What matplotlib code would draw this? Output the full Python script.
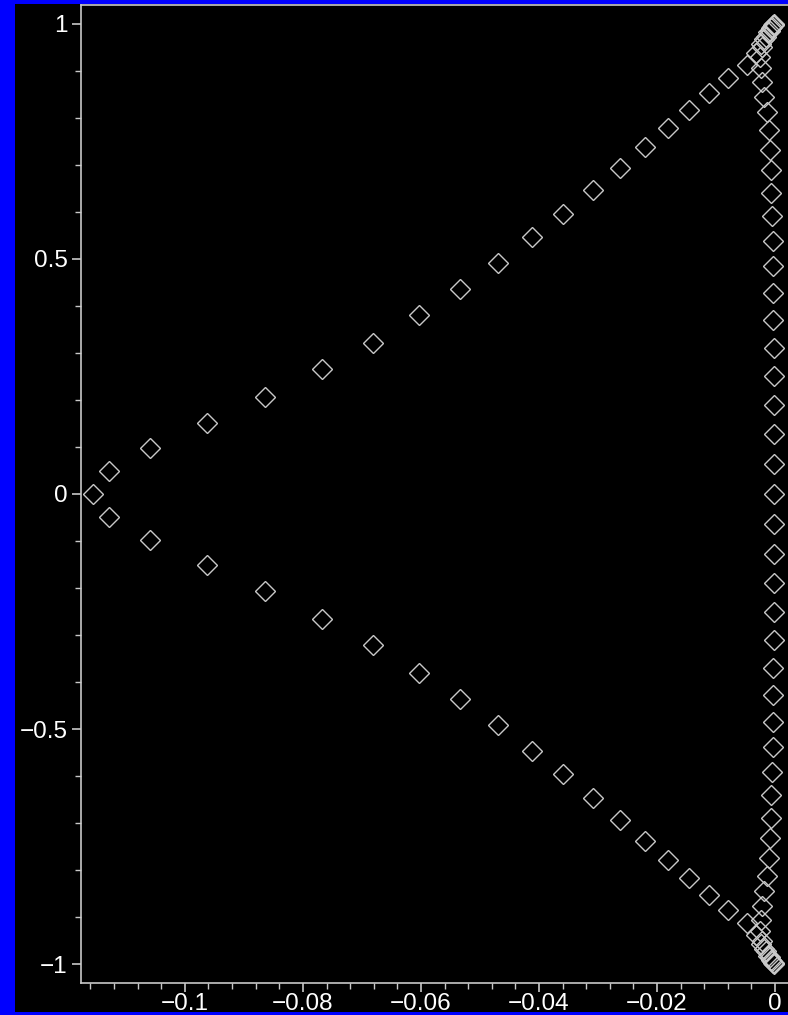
import numpy as np
import matplotlib
matplotlib.use("Agg")
from matplotlib import pyplot as plt
from matplotlib.patches import Rectangle
from matplotlib.ticker import MultipleLocator

# eigenvalues, upper half (lower half is the mirror image)
v_re_up = [-0.1155, -0.1129, -0.1059, -0.0963, -0.0864, -0.0768, -0.0682, -0.0603,
           -0.0533, -0.0469, -0.0411, -0.0359, -0.0308, -0.0263, -0.0220, -0.0181,
           -0.0145, -0.0112, -0.0080, -0.0048, -0.0033, -0.0023, -0.0015, -0.0009,
           -0.0005, -0.0002]
v_im_up = [0.000, 0.048, 0.098, 0.152, 0.206, 0.265, 0.322, 0.380,
           0.436, 0.491, 0.546, 0.596, 0.646, 0.694, 0.737, 0.779,
           0.816, 0.852, 0.884, 0.912, 0.937, 0.957, 0.973, 0.985,
           0.993, 0.998]

v_re_lo = [-0.1129, -0.1059, -0.0963, -0.0864, -0.0768, -0.0682, -0.0603,
           -0.0533, -0.0469, -0.0411, -0.0359, -0.0308, -0.0263, -0.0220, -0.0181,
           -0.0145, -0.0112, -0.0080, -0.0048, -0.0033, -0.0023, -0.0015, -0.0009,
           -0.0005, -0.0002]
v_im_lo = [-0.048, -0.098, -0.152, -0.206, -0.265, -0.322, -0.380,
           -0.436, -0.491, -0.546, -0.596, -0.646, -0.694, -0.737, -0.779,
           -0.816, -0.852, -0.884, -0.912, -0.937, -0.957, -0.973, -0.985,
           -0.993, -0.998]

# near-imaginary-axis column
c_re_up = [-0.0001, -0.0003, -0.0007, -0.0012, -0.0018, -0.0022, -0.0025, -0.0024,
           -0.0022, -0.0018, -0.0014, -0.0011, -0.0009, -0.0007, -0.0006, -0.0005,
           -0.0004, -0.0004, -0.0003, -0.0003, -0.0002, -0.0002, -0.0002, -0.0001,
           -0.0001, -0.0001]
c_im_up = [1.000, 0.998, 0.992, 0.982, 0.968, 0.951, 0.929, 0.905,
           0.876, 0.844, 0.813, 0.774, 0.732, 0.689, 0.641, 0.591,
           0.538, 0.484, 0.428, 0.370, 0.311, 0.251, 0.189, 0.127,
           0.064, 0.000]

c_re_lo = [-0.0001, -0.0003, -0.0007, -0.0012, -0.0018, -0.0022, -0.0025, -0.0024,
           -0.0022, -0.0018, -0.0014, -0.0011, -0.0009, -0.0007, -0.0006, -0.0005,
           -0.0004, -0.0004, -0.0003, -0.0003, -0.0002, -0.0002, -0.0002, -0.0001,
           -0.0001]
c_im_lo = [-1.000, -0.998, -0.992, -0.982, -0.968, -0.951, -0.929, -0.905,
           -0.876, -0.844, -0.813, -0.774, -0.732, -0.689, -0.641, -0.591,
           -0.538, -0.484, -0.428, -0.370, -0.311, -0.251, -0.189, -0.127,
           -0.064]

x_ticks = [-0.1, -0.08, -0.06, -0.04, -0.02, 0]
x_labels = ["\u22120.1", "\u22120.08", "\u22120.06", "\u22120.04", "\u22120.02", "0"]
y_ticks = [-1, -0.5, 0, 0.5, 1]
y_labels = ["\u22121", "\u22120.5", "0", "0.5", "1"]

plt.rcParams['font.family'] = ['Liberation Sans', 'DejaVu Sans']

fig = plt.figure(figsize=(7.88, 10.15), dpi=100, facecolor="black")
ax = fig.add_axes([81 / 788, 32 / 1015, 707 / 788, 978 / 1015])
ax.set_facecolor("black")

edge = "#c8c8c8"
mk = dict(linestyle="none", marker="D", markersize=10.5, markerfacecolor="none",
          markeredgecolor=edge, markeredgewidth=1.0)
ax.plot(v_re_up, v_im_up, **mk)
ax.plot(v_re_lo, v_im_lo, **mk)
ax.plot(c_re_up, c_im_up, **mk)
ax.plot(c_re_lo, c_im_lo, **mk)

ax.set_xlim(-0.1176, 0.0022)
ax.set_ylim(-1.04, 1.04)

ax.set_xticks(x_ticks)
ax.set_xticklabels(x_labels)
ax.set_yticks(y_ticks)
ax.set_yticklabels(y_labels)
ax.xaxis.set_minor_locator(MultipleLocator(0.004))
ax.yaxis.set_minor_locator(MultipleLocator(0.1))

ax.tick_params(which="major", direction="out", length=6.5, width=1.2, color=edge,
               labelcolor="white", labelsize=17.5)
ax.tick_params(axis="x", which="major", pad=1)
ax.tick_params(axis="y", which="major", pad=3)
ax.tick_params(which="minor", direction="out", length=4, width=1.0, color=edge)

for s in ["left", "bottom", "top"]:
    ax.spines[s].set_color(edge)
    ax.spines[s].set_linewidth(1.2)
ax.spines["right"].set_visible(False)

# blue frame on the left, top and bottom edges
blue = "#0000ff"
fig.add_artist(Rectangle((0, 0), 15 / 788, 1, transform=fig.transFigure,
                         facecolor=blue, edgecolor="none", zorder=10))
fig.add_artist(Rectangle((0, 1 - 4 / 1015), 1, 4 / 1015, transform=fig.transFigure,
                         facecolor=blue, edgecolor="none", zorder=10))
fig.add_artist(Rectangle((0, 0), 1, 3 / 1015, transform=fig.transFigure,
                         facecolor=blue, edgecolor="none", zorder=10))

fig.savefig("out.png", dpi=100, facecolor="black")
